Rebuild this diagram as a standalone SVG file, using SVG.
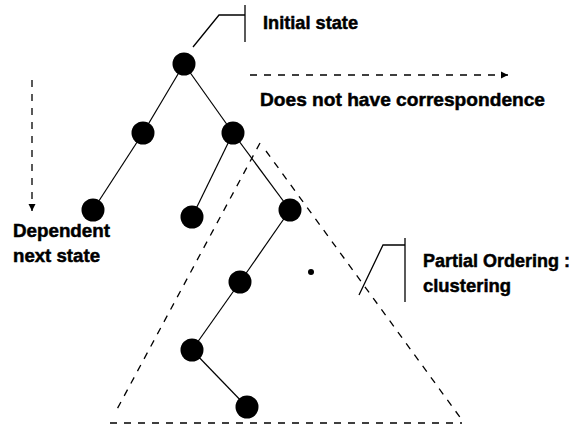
<svg xmlns="http://www.w3.org/2000/svg" width="581" height="425" viewBox="0 0 581 425">
<style>
.edge{stroke:#000;stroke-width:1.2;fill:none}
.dash{stroke:#000;stroke-width:1.3;fill:none;stroke-dasharray:7 7}
.node{fill:#000}
.lbl{font-family:"Liberation Sans",Arial,sans-serif;font-weight:bold;font-size:19px;fill:#000;stroke:#000;stroke-width:0.5}
.call{stroke:#000;stroke-width:1.3;fill:none}
</style>
<defs>
<marker id="ah" markerWidth="8" markerHeight="8" refX="7" refY="4" orient="auto" markerUnits="userSpaceOnUse">
<path d="M0,0.5 L7,4 L0,7.5 Z" fill="#000"/>
</marker>
</defs>
<rect width="581" height="425" fill="#fff"/>
<g id="connectors">
<line class="edge" x1="184" y1="64" x2="143" y2="133"/>
<line class="edge" x1="184" y1="64" x2="233" y2="133"/>
<line class="edge" x1="143" y1="133" x2="93" y2="210"/>
<line class="edge" x1="233" y1="133" x2="192" y2="217"/>
<line class="edge" x1="233" y1="133" x2="290" y2="210"/>
<line class="edge" x1="290" y1="210" x2="240" y2="282"/>
<line class="edge" x1="240" y1="282" x2="192" y2="350"/>
<line class="edge" x1="192" y1="350" x2="247" y2="407"/>
<line class="dash" x1="250" y1="75" x2="508" y2="75" marker-end="url(#ah)"/>
<line class="dash" x1="32" y1="80" x2="32" y2="211" stroke-dasharray="8 4" marker-end="url(#ah)"/>
</g>
<g id="cluster">
<line class="dash" x1="260" y1="143" x2="115" y2="413" stroke-dasharray="6 8"/>
<line class="dash" x1="266" y1="151" x2="462" y2="420" stroke-dasharray="6 8"/>
<line class="dash" x1="110" y1="423" x2="462" y2="423" stroke-dasharray="8 6"/>
</g>
<g id="n0"><circle class="node" cx="184" cy="64" r="11.5"/></g>
<g id="n1"><circle class="node" cx="143" cy="133" r="11.5"/></g>
<g id="n2"><circle class="node" cx="233" cy="133" r="11.5"/></g>
<g id="n3"><circle class="node" cx="93" cy="210" r="11.5"/></g>
<g id="n4"><circle class="node" cx="192" cy="217" r="11.5"/></g>
<g id="n5"><circle class="node" cx="290" cy="210" r="11.5"/></g>
<g id="n6"><circle class="node" cx="240" cy="282" r="11.5"/></g>
<g id="n7"><circle class="node" cx="192" cy="350" r="11.5"/></g>
<g id="n8"><circle class="node" cx="247" cy="407" r="11.5"/></g>
<g id="dot"><circle class="node" cx="311" cy="272" r="3"/></g>
<g id="initial">
<polyline class="call" points="193,47 219,15 245,15"/>
<line class="call" x1="245" y1="5" x2="245" y2="42"/>
<text class="lbl" x="263" y="29" textLength="95" lengthAdjust="spacingAndGlyphs">Initial state</text>
</g>
<g id="corr">
<text class="lbl" x="260" y="106" textLength="285" lengthAdjust="spacingAndGlyphs">Does not have correspondence</text>
</g>
<g id="dep">
<text class="lbl" x="13" y="237" textLength="97" lengthAdjust="spacingAndGlyphs">Dependent</text>
<text class="lbl" x="13" y="262" textLength="87" lengthAdjust="spacingAndGlyphs">next state</text>
</g>
<g id="partial">
<polyline class="call" points="359,295 383,245 405,245"/>
<line class="call" x1="405" y1="238" x2="405" y2="302"/>
<text class="lbl" x="423" y="267" textLength="147" lengthAdjust="spacingAndGlyphs">Partial Ordering :</text>
<text class="lbl" x="423" y="292" textLength="88" lengthAdjust="spacingAndGlyphs">clustering</text>
</g>
</svg>
